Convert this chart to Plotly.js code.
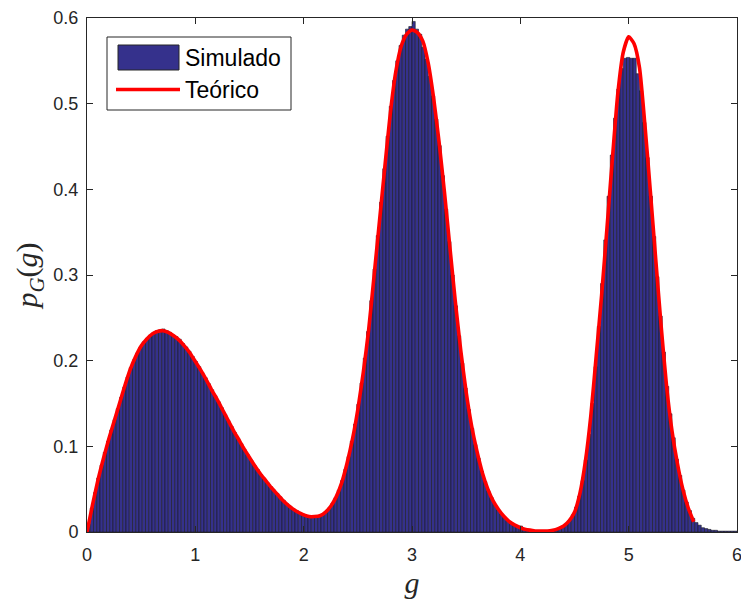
<!DOCTYPE html>
<html>
<head>
<meta charset="utf-8">
<script src="https://cdn.plot.ly/plotly-3.0.1.min.js"></script>
<style>html,body{margin:0;padding:0;background:#fff;}#chart{width:741px;height:599px;}</style>
</head>
<body>
<div id="chart"></div>
<script>
// Histogram (Simulado): 200 bins of width 0.03 from 0 to 6, values are bin heights (pdf)
const binStart = 0.015;
const binWidth = 0.03;
const simulado = [
0.009,0.028,0.046,0.063,0.078,0.093,0.106,0.119,0.131,0.144,
0.157,0.169,0.181,0.192,0.201,0.209,0.216,0.222,0.226,0.230,
0.233,0.235,0.236,0.237,0.235,0.233,0.230,0.228,0.225,0.220,
0.216,0.211,0.205,0.199,0.193,0.186,0.180,0.173,0.166,0.159,
0.152,0.145,0.137,0.130,0.123,0.116,0.109,0.103,0.096,0.090,
0.084,0.078,0.073,0.067,0.062,0.058,0.053,0.049,0.045,0.041,
0.037,0.033,0.030,0.027,0.025,0.022,0.021,0.019,0.018,0.018,
0.018,0.019,0.021,0.024,0.028,0.033,0.040,0.049,0.060,0.073,
0.088,0.106,0.126,0.149,0.174,0.203,0.234,0.270,0.307,0.346,
0.385,0.424,0.462,0.497,0.527,0.550,0.568,0.580,0.587,0.590,
0.596,0.587,0.581,0.566,0.552,0.532,0.509,0.482,0.451,0.416,
0.377,0.339,0.300,0.264,0.229,0.197,0.168,0.143,0.121,0.102,
0.086,0.071,0.059,0.048,0.040,0.032,0.026,0.021,0.017,0.013,
0.010,0.008,0.006,0.007,0.004,0.003,0.002,0.001,0.001,0.001,
0.001,0.001,0.001,0.002,0.003,0.004,0.006,0.009,0.014,0.020,
0.029,0.042,0.060,0.084,0.114,0.150,0.193,0.240,0.290,0.341,
0.392,0.440,0.483,0.517,0.541,0.553,0.554,0.553,0.553,0.535,
0.515,0.478,0.437,0.392,0.345,0.298,0.252,0.210,0.170,0.138,
0.110,0.085,0.066,0.049,0.035,0.025,0.016,0.011,0.008,0.005,
0.004,0.003,0.002,0.002,0.001,0.001,0.001,0.001,0.001,0.001
];

// Theoretical curve (Teórico): sampled every 0.05 from 0 to 5.6
const curveStart = 0;
const curveStep = 0.05;
const teorico = [
0.000,0.031,0.060,0.085,0.108,0.129,0.150,0.171,0.190,0.205,
0.217,0.225,0.231,0.234,0.235,0.233,0.229,0.224,0.217,0.209,
0.199,0.189,0.178,0.166,0.155,0.143,0.131,0.119,0.108,0.097,
0.087,0.077,0.068,0.060,0.052,0.045,0.038,0.032,0.027,0.023,
0.020,0.018,0.018,0.019,0.023,0.030,0.041,0.057,0.080,0.108,
0.143,0.186,0.236,0.299,0.363,0.427,0.489,0.537,0.567,0.581,
0.586,0.583,0.573,0.547,0.506,0.455,0.396,0.332,0.269,0.212,
0.163,0.124,0.094,0.069,0.050,0.036,0.026,0.018,0.012,0.008,
0.005,0.003,0.002,0.001,0.001,0.001,0.002,0.004,0.007,0.013,
0.023,0.045,0.082,0.135,0.205,0.276,0.355,0.436,0.512,0.560,
0.578,0.570,0.542,0.475,0.398,0.318,0.240,0.170,0.118,0.080,
0.050,0.028,0.012
];

const xTicks = [0,1,2,3,4,5,6];
const yTicks = [0,0.1,0.2,0.3,0.4,0.5,0.6];
const yTickText = ['0','0.1','0.2','0.3','0.4','0.5','0.6'];
const legendNames = ['Simulado','Teórico'];

const barColor = '#35318c';
const lineColor = '#ff0000';

const traces = [
  {
    type: 'bar',
    name: legendNames[0],
    x0: binStart, dx: binWidth,
    y: simulado,
    width: binWidth,
    marker: {color: barColor, line: {color: 'rgba(25,25,30,0.95)', width: 0.6}},
    showlegend: false,
    hoverinfo: 'x+y'
  },
  {
    type: 'scatter',
    mode: 'lines',
    name: legendNames[1],
    x0: curveStart, dx: curveStep,
    y: teorico,
    line: {color: lineColor, width: 3.6, shape: 'spline', smoothing: 0.6},
    showlegend: false
  }
];

// plot area in pixels: left 87, right 737, top 18, bottom 532
const L = 87, R = 737, T = 18, B = 532;
const px = v => (v - L) / (R - L);
const py = v => (B - v) / (B - T);

const axisCommon = {
  showline: true, linecolor: '#262626', linewidth: 1,
  mirror: 'ticks', ticks: 'inside', ticklen: 6, tickwidth: 1, tickcolor: '#262626',
  showgrid: false, zeroline: false,
  ticklabeloverflow: 'allow',
  tickfont: {family: 'Liberation Sans, Arial, sans-serif', size: 18, color: '#262626'}
};

const layout = {
  width: 741, height: 599,
  margin: {l: L, r: 741 - R, t: T, b: 599 - B, pad: 0},
  paper_bgcolor: '#ffffff', plot_bgcolor: '#ffffff',
  bargap: 0,
  xaxis: Object.assign({}, axisCommon, {
    range: [0, 6], tickvals: xTicks, ticktext: xTicks.map(String),
    ticklabelstandoff: 6,
    title: {text: '<i>g</i>', font: {family: 'Liberation Serif, DejaVu Serif, serif', size: 30, color: '#262626'}, standoff: 10}
  }),
  yaxis: Object.assign({}, axisCommon, {
    range: [0, 0.6], tickvals: yTicks, ticktext: yTickText,
    ticklabelstandoff: 4,
    title: {text: '<i>p</i><sub><i>G</i></sub>(<i>g</i>)', font: {family: 'Liberation Serif, DejaVu Serif, serif', size: 30, color: '#262626'}, standoff: 6}
  }),
  showlegend: false,
  shapes: [
    {type: 'rect', xref: 'paper', yref: 'paper', x0: px(107), x1: px(291), y0: py(110), y1: py(37),
     line: {color: '#262626', width: 1}, fillcolor: '#ffffff', layer: 'above'},
    {type: 'rect', xref: 'paper', yref: 'paper', x0: px(118), x1: px(179), y0: py(70), y1: py(45),
     line: {color: '#262626', width: 1}, fillcolor: barColor, layer: 'above'},
    {type: 'line', xref: 'paper', yref: 'paper', x0: px(116), x1: px(180), y0: py(89.5), y1: py(89.5),
     line: {color: lineColor, width: 3.6}, layer: 'above'}
  ],
  annotations: [
    {xref: 'paper', yref: 'paper', x: px(183), y: py(58), xanchor: 'left', yanchor: 'middle', showarrow: false,
     text: legendNames[0], font: {family: 'Liberation Sans, Arial, sans-serif', size: 23, color: '#000'}},
    {xref: 'paper', yref: 'paper', x: px(183), y: py(90), xanchor: 'left', yanchor: 'middle', showarrow: false,
     text: legendNames[1], font: {family: 'Liberation Sans, Arial, sans-serif', size: 23, color: '#000'}}
  ]
};

Plotly.newPlot('chart', traces, layout, {displayModeBar: false, staticPlot: true});
</script>
</body>
</html>
